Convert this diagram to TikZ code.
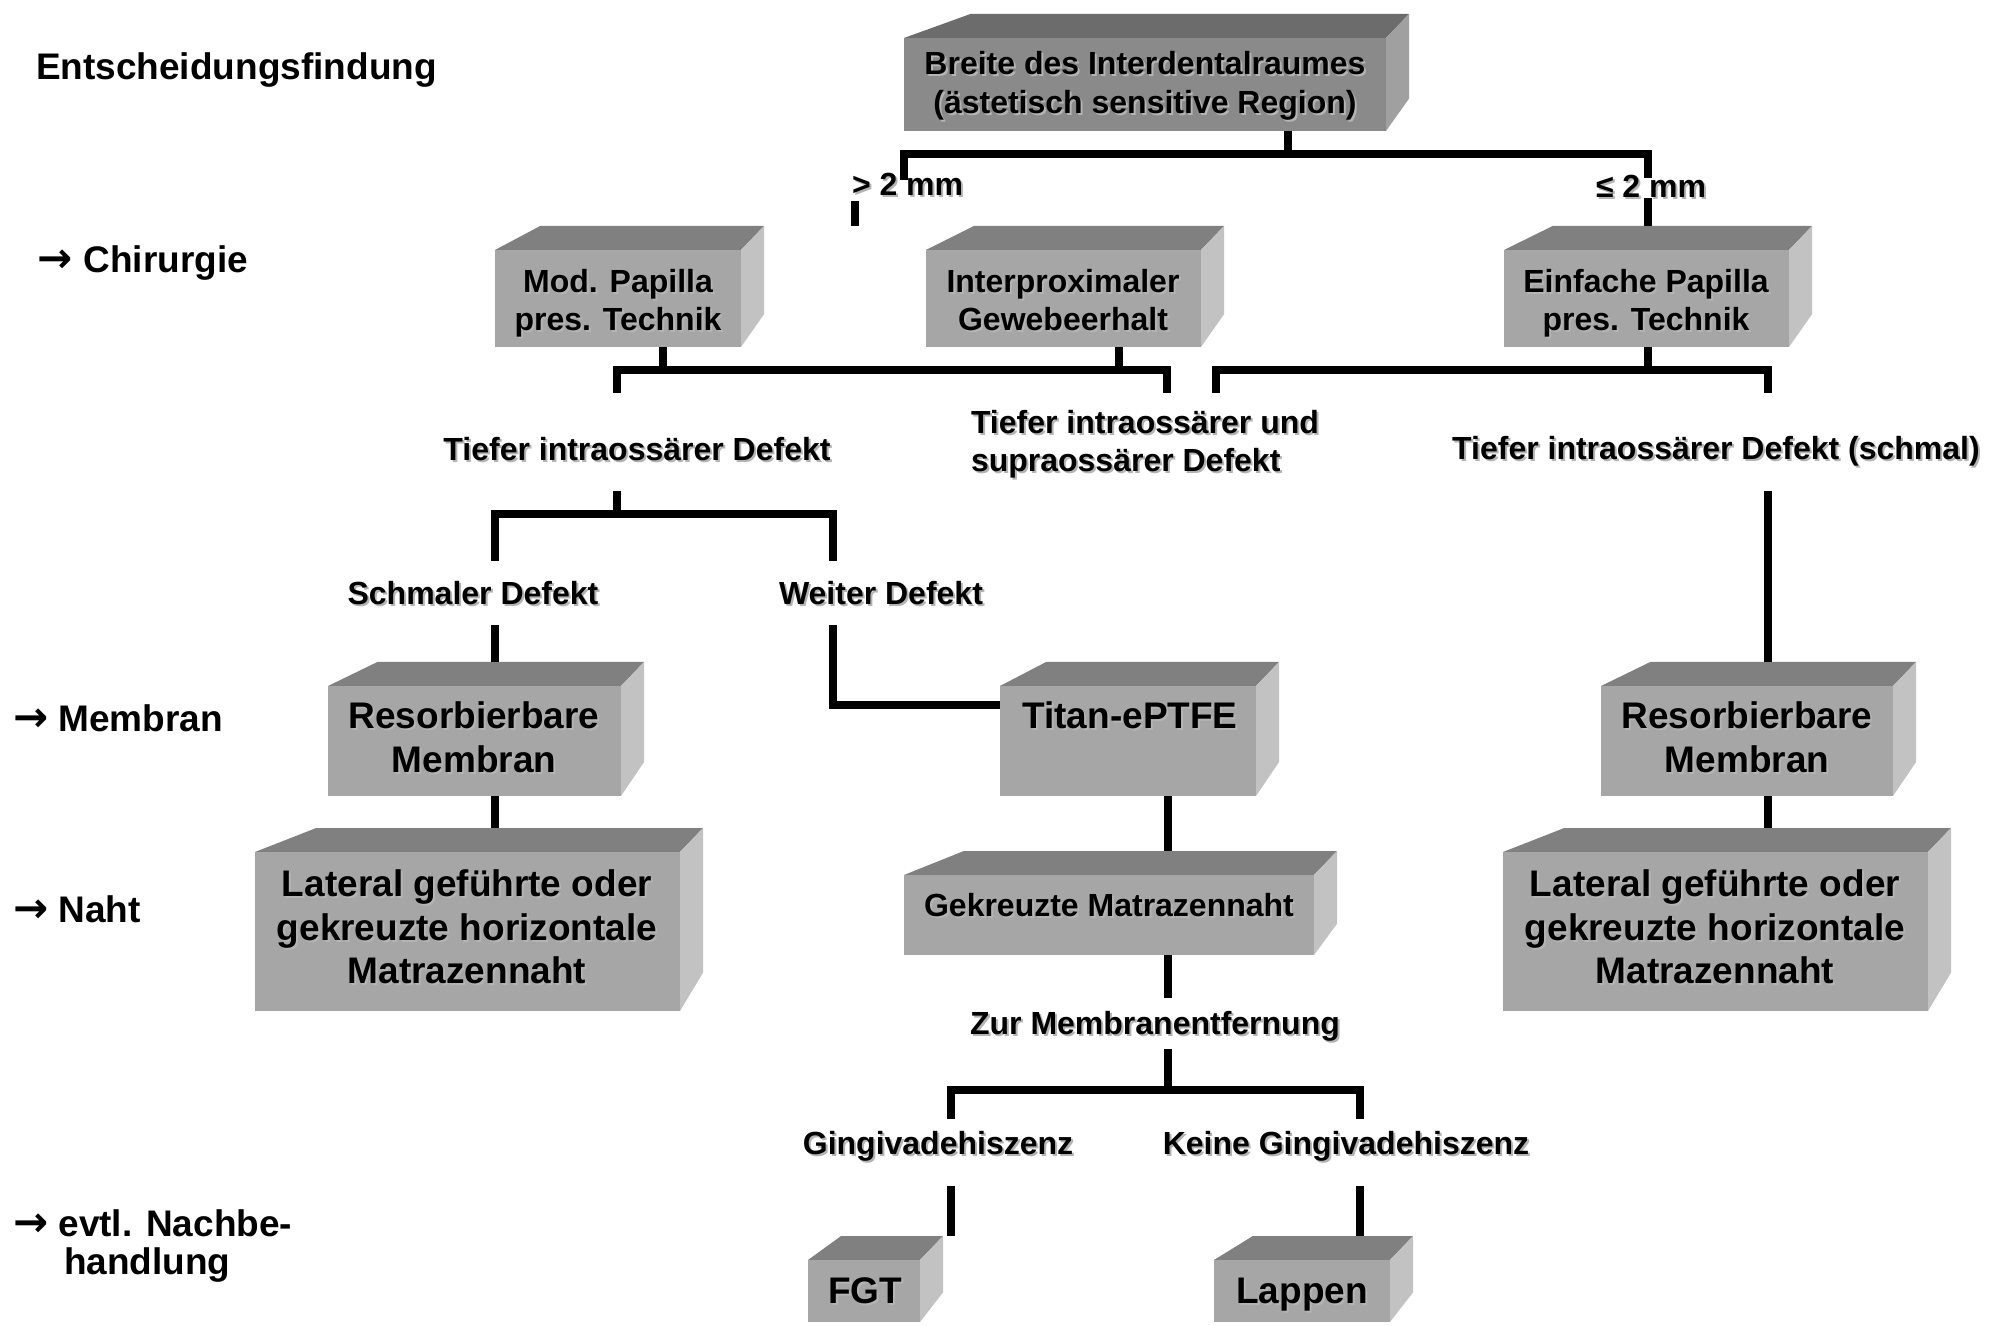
\documentclass[tikz,border=0pt]{standalone}
\usepackage{fontspec}
\setmainfont{Liberation Sans}
\newfontfamily\arrowfont{DejaVu Sans}
\usetikzlibrary{calc}

% face colours of the extruded boxes (N = normal, D = dark header box)
\definecolor{cubeNfront}{HTML}{A6A6A6}
\definecolor{cubeNtop}{HTML}{808080}
\definecolor{cubeNside}{HTML}{C2C2C2}
\definecolor{cubeDfront}{HTML}{8A8A8A}
\definecolor{cubeDtop}{HTML}{6C6C6C}
\definecolor{cubeDside}{HTML}{A0A0A0}
\definecolor{shadowgray}{HTML}{B4B4B4}

\newcommand\fsmall{\fontsize{16pt}{19.2pt}\selectfont\bfseries}
\newcommand\fbig{\fontsize{18.5pt}{21.8pt}\selectfont\bfseries}
\newcommand\stagearrow{{\arrowfont\bfseries\fontsize{21pt}{21.8pt}\selectfont →}}

\tikzset{
  conn/.style={line width=3.8pt, black},
  lbl/.style={inner sep=0pt, outer sep=0pt, align=center, font=\fsmall},
  biglbl/.style={lbl, font=\fbig},
}

% extruded box: name, x1, y1, x2, y2 (front face, px), colour variant
\newcommand\cubebox[6]{%
  \pgfmathsetmacro\cbw{#4-#2}%
  \pgfmathsetmacro\cbh{#5-#3}%
  \pgfmathsetmacro\cbxr{#4+23}%
  \pgfmathsetmacro\cbxl{#4+23-0.91*\cbw}%
  \pgfmathsetmacro\cbyt{#3-24}%
  \pgfmathsetmacro\cbyb{#3-24+0.91*\cbh}%
  \fill[fill=cube#6top] (#2,#3) -- (\cbxl,\cbyt) -- (\cbxr,\cbyt) -- (#4,#3) -- cycle;
  \fill[fill=cube#6side] (#4,#3) -- (\cbxr,\cbyt) -- (\cbxr,\cbyb) -- (#4,#5) -- cycle;
  \node[fill=cube#6front, inner sep=0pt, outer sep=0pt,
        minimum width=\cbw*0.5pt, minimum height=\cbh*0.5pt]
        (#1) at ({(#2+#4)/2},{(#3+#5)/2}) {};
  \coordinate (#1 back) at ({(#2+#4)/2},\cbyt);
}

% text with a soft drop shadow: name, x, y, style, text
\newcommand\shtext[5]{%
  \node[#4, text=shadowgray] (#1 shadow) at (#2+2,#3+2) {#5};
  \node[#4] (#1) at (#2,#3) {#5};
}

\begin{document}
\begin{tikzpicture}[x=0.5pt,y=-0.5pt]
\fill[white] (0,0) rectangle (1999,1326);
\useasboundingbox (0,0) rectangle (1999,1326);

% ---------- boxes ----------
\cubebox{top}{904}{38}{1386}{131}{D}
\cubebox{mod}{495}{250}{741}{347}{N}
\cubebox{inter}{926}{250}{1201}{347}{N}
\cubebox{ein}{1504}{250}{1789}{347}{N}
\cubebox{resL}{328}{686}{621}{796}{N}
\cubebox{titan}{1000}{686}{1256}{796}{N}
\cubebox{resR}{1601}{686}{1893}{796}{N}
\cubebox{latL}{255}{852}{680}{1011}{N}
\cubebox{gek}{904}{875}{1314}{955}{N}
\cubebox{latR}{1503}{852}{1928}{1011}{N}
\cubebox{fgt}{808}{1260}{920}{1322}{N}
\cubebox{lap}{1214}{1260}{1390}{1322}{N}

% ---------- junction points ----------
\coordinate (j1) at (1288,154);
\coordinate (gtL) at (904,180);
\coordinate (leR) at (1648,178);
\coordinate (leR2) at (1648,198);
\coordinate (gtStub1) at (855,201);
\coordinate (gtStub2) at (855,226);

\coordinate (h2a) at (663,370);
\coordinate (h2b) at (1119,370);
\coordinate (b2L) at (617,393);
\coordinate (b2R) at (1167,393);
\coordinate (h3) at (1648,370);
\coordinate (b3L) at (1216,393);
\coordinate (b3R) at (1768,393);

\coordinate (s4) at (617,491);
\coordinate (h4) at (617,514);
\coordinate (b4L) at (495,561);
\coordinate (b4R) at (833,561);
\coordinate (sm1) at (495,625);
\coordinate (we1) at (833,625);
\coordinate (we2) at (1000,705);
\coordinate (rs1) at (1768,491);

\coordinate (g1) at (1168,998);
\coordinate (g2) at (1168,1049);
\coordinate (h5) at (1168,1090);
\coordinate (b5L) at (951,1119);
\coordinate (b5R) at (1360,1119);
\coordinate (f1) at (951,1186);
\coordinate (l1) at (1360,1186);

% ---------- connectors ----------
\draw[conn] (top.south -| j1) -- (j1);
\draw[conn] (gtL) |- (j1) -| (leR);
\draw[conn] (gtStub1) -- (gtStub2);
\draw[conn] (leR2) -- (ein back -| leR2);

\draw[conn] (mod.south -| h2a) -- (h2a);
\draw[conn] (inter.south -| h2b) -- (h2b);
\draw[conn] (b2L) |- (h2a) -| (b2R);
\draw[conn] (ein.south -| h3) -- (h3);
\draw[conn] (b3L) |- (h3) -| (b3R);

\draw[conn] (s4) -- (h4);
\draw[conn] (b4L) |- (h4) -| (b4R);
\draw[conn] (sm1) -- (resL back -| sm1);
\draw[conn] (we1) |- (we2);
\draw[conn] (rs1) -- (resR back -| rs1);

\draw[conn] (resL.south -| sm1) -- (latL back -| sm1);
\draw[conn] (resR.south -| rs1) -- (latR back -| rs1);
\draw[conn] (titan.south -| g1) -- (gek back -| g1);
\draw[conn] (gek.south -| g1) -- (g1);
\draw[conn] (g2) -- (h5);
\draw[conn] (b5L) |- (h5) -| (b5R);
\draw[conn] (f1) -- (fgt back -| f1);
\draw[conn] (l1) -- (lap back -| l1);

% ---------- box texts ----------
\shtext{topT}{1145}{86}{lbl}{Breite des Interdentalraumes\\(ästetisch sensitive Region)}
\shtext{modT}{618}{303}{lbl}{Mod. Papilla\\pres. Technik}
\shtext{interT}{1063}{300}{lbl}{Interproximaler\\Gewebeerhalt}
\shtext{einT}{1646}{303}{lbl}{Einfache Papilla\\pres. Technik}
\shtext{resLT}{474}{737}{biglbl}{Resorbierbare\\Membran}
\shtext{titanT}{1130}{715}{biglbl}{Titan-ePTFE}
\shtext{resRT}{1747}{737}{biglbl}{Resorbierbare\\Membran}
\shtext{latLT}{467}{927}{biglbl}{Lateral geführte oder\\gekreuzte horizontale\\Matrazennaht}
\shtext{gekT}{1109}{905}{lbl}{Gekreuzte Matrazennaht}
\shtext{latRT}{1715}{927}{biglbl}{Lateral geführte oder\\gekreuzte horizontale\\Matrazennaht}
\shtext{fgtT}{865}{1291}{biglbl}{FGT}
\shtext{lapT}{1302}{1295}{biglbl}{Lappen}

% ---------- branch labels ----------
\shtext{gt}{852}{184}{lbl, anchor=west}{> 2 mm}
\shtext{le}{1596}{186}{lbl, anchor=west}{≤ 2 mm}
\shtext{tiefA}{637}{449}{lbl}{Tiefer intraossärer Defekt}
\shtext{tiefB}{971}{444}{lbl, anchor=west, align=left}{Tiefer intraossärer und\\supraossärer Defekt}
\shtext{tiefC}{1716}{451}{lbl}{Tiefer intraossärer Defekt (schmal)}
\shtext{schmal}{473}{593}{lbl}{Schmaler Defekt}
\shtext{weit}{881}{593}{lbl}{Weiter Defekt}
\shtext{zur}{1155}{1026}{lbl}{Zur Membranentfernung}
\shtext{ging}{938}{1146}{lbl}{Gingivadehiszenz}
\shtext{keine}{1346}{1146}{lbl}{Keine Gingivadehiszenz}

% ---------- stage labels ----------
\node[biglbl, anchor=west] (stage0) at (36,70) {Entscheidungsfindung};
\node[biglbl, anchor=west] (stage1) at (38,263) {\stagearrow\ Chirurgie};
\node[biglbl, anchor=west] (stage2) at (13,718) {\stagearrow\ Membran};
\node[biglbl, anchor=west] (stage3) at (13,909) {\stagearrow\ Naht};
\node[biglbl, anchor=west] (stage4) at (13,1223) {\stagearrow\ evtl. Nachbe-};
\node[biglbl, anchor=west] (stage4b) at (64,1265) {handlung};
\end{tikzpicture}
\end{document}
